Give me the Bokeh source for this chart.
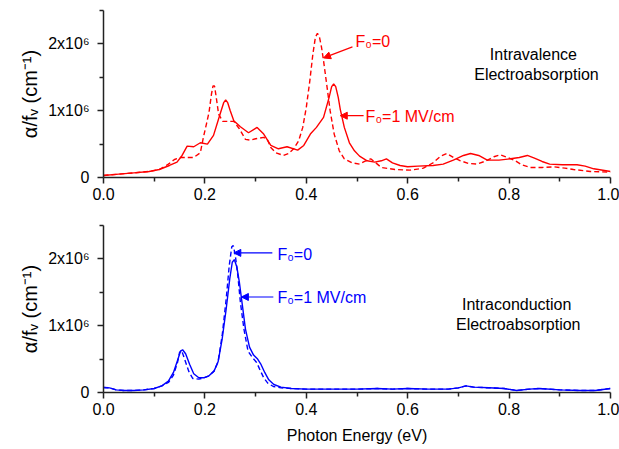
import numpy as np
from bokeh.plotting import figure
from bokeh.layouts import column
from bokeh.models import Range1d, FixedTicker, Arrow, NormalHead, NumeralTickFormatter
from bokeh.core.properties import value
from bokeh.embed import file_html
from bokeh.resources import INLINE

FONT = "Liberation Sans"
RED = "#ff0000"
BLUE = "#0000ff"

# ---------------- data (y in units of 10^6 cm^-1) ----------------
# Intravalence, F0 = 1 MV/cm (solid)
iv_f1_x = [0.00, 0.03, 0.06, 0.09, 0.11, 0.13, 0.145, 0.155, 0.165, 0.178, 0.191, 0.205,
           0.217, 0.23, 0.237, 0.241, 0.245, 0.25, 0.257, 0.27, 0.286, 0.303, 0.316, 0.33, 0.345, 0.362,
           0.383, 0.395, 0.408, 0.42, 0.434, 0.445, 0.45, 0.454, 0.458, 0.463, 0.467, 0.475, 0.485,
           0.495, 0.505, 0.52, 0.535, 0.548, 0.558, 0.57, 0.585, 0.60, 0.62, 0.65, 0.67,
           0.69, 0.71, 0.724, 0.74, 0.757, 0.78, 0.803, 0.82, 0.836, 0.85, 0.865, 0.88,
           0.905, 0.934, 0.95, 0.967, 1.00]
iv_f1_y = [0.03, 0.05, 0.07, 0.09, 0.12, 0.18, 0.23, 0.33, 0.47, 0.46, 0.52, 0.50,
           0.63, 0.95, 1.12, 1.16, 1.12, 1.00, 0.85, 0.76, 0.67, 0.75, 0.65, 0.48, 0.43, 0.46,
           0.41, 0.48, 0.65, 0.75, 0.90, 1.20, 1.36, 1.40, 1.36, 1.20, 1.02, 0.75, 0.52,
           0.40, 0.32, 0.25, 0.23, 0.25, 0.28, 0.22, 0.18, 0.16, 0.17, 0.18, 0.20,
           0.26, 0.33, 0.36, 0.33, 0.26, 0.26, 0.28, 0.30, 0.33, 0.29, 0.24, 0.20,
           0.19, 0.19, 0.17, 0.13, 0.09]

# Intravalence, F0 = 0 (dashed)
iv_f0_x = [0.00, 0.03, 0.06, 0.09, 0.11, 0.128, 0.14, 0.152, 0.165, 0.178, 0.191, 0.197,
           0.203, 0.208, 0.213, 0.216, 0.219, 0.222, 0.227, 0.235, 0.245, 0.257, 0.268, 0.28,
           0.29, 0.30, 0.316, 0.323, 0.33, 0.34, 0.355, 0.365, 0.375, 0.385, 0.393,
           0.40, 0.407, 0.413, 0.418, 0.422, 0.426, 0.43, 0.434, 0.441, 0.447, 0.455, 0.465,
           0.475, 0.49, 0.505, 0.515, 0.527, 0.537, 0.548, 0.575, 0.605, 0.631, 0.65,
           0.665, 0.677, 0.69, 0.704, 0.72, 0.737, 0.755, 0.77, 0.783, 0.797, 0.81,
           0.825, 0.842, 0.865, 0.888, 0.91, 0.927, 0.96, 1.00]
iv_f0_y = [0.03, 0.05, 0.07, 0.09, 0.12, 0.20, 0.27, 0.30, 0.30, 0.30, 0.37, 0.60,
           0.80, 0.97, 1.25, 1.37, 1.37, 1.22, 0.95, 0.84, 0.84, 0.84, 0.73, 0.57,
           0.56, 0.58, 0.60, 0.57, 0.45, 0.37, 0.33, 0.36, 0.43, 0.55, 0.75,
           1.05, 1.45, 1.85, 2.10, 2.16, 2.10, 1.95, 1.75, 1.35, 1.00, 0.65, 0.40,
           0.28, 0.22, 0.20, 0.24, 0.28, 0.22, 0.15, 0.12, 0.11, 0.14, 0.22,
           0.32, 0.36, 0.30, 0.25, 0.21, 0.20, 0.25, 0.31, 0.34, 0.30, 0.26,
           0.19, 0.15, 0.15, 0.16, 0.14, 0.12, 0.09, 0.08]

# Intraconduction, F0 = 1 MV/cm (solid)
ic_f1_x = [0.00, 0.012, 0.025, 0.04, 0.06, 0.08, 0.10, 0.115, 0.128, 0.138, 0.146, 0.152,
           0.156, 0.162, 0.17, 0.178, 0.188, 0.198, 0.208, 0.218, 0.226, 0.234, 0.242,
           0.249, 0.254, 0.258, 0.263, 0.268, 0.274, 0.28, 0.288, 0.296, 0.304, 0.31,
           0.318, 0.326, 0.336, 0.35, 0.37, 0.40, 0.45, 0.50, 0.54, 0.57, 0.60, 0.64,
           0.68, 0.70, 0.715, 0.73, 0.76, 0.79, 0.815, 0.84, 0.86, 0.90, 0.94, 0.97, 1.00]
ic_f1_y = [0.075, 0.07, 0.04, 0.03, 0.03, 0.04, 0.06, 0.10, 0.17, 0.30, 0.48, 0.62,
           0.64, 0.58, 0.42, 0.28, 0.22, 0.22, 0.25, 0.32, 0.46, 0.80, 1.25,
           1.70, 1.95, 1.99, 1.88, 1.65, 1.30, 0.95, 0.68, 0.56, 0.50, 0.43,
           0.30, 0.19, 0.12, 0.08, 0.06, 0.05, 0.05, 0.05, 0.06, 0.05, 0.06, 0.05,
           0.05, 0.07, 0.10, 0.08, 0.07, 0.06, 0.03, 0.05, 0.06, 0.04, 0.03, 0.03, 0.06]

# Intraconduction, F0 = 0 (dashed)
ic_f0_x = [0.00, 0.012, 0.025, 0.04, 0.06, 0.08, 0.10, 0.115, 0.128, 0.138, 0.146, 0.150,
           0.154, 0.16, 0.168, 0.176, 0.188, 0.198, 0.208, 0.218, 0.226, 0.234, 0.242,
           0.248, 0.253, 0.256, 0.26, 0.265, 0.27, 0.277, 0.285, 0.294, 0.302, 0.308,
           0.316, 0.324, 0.335, 0.35, 0.37, 0.40, 0.45, 0.50, 0.54, 0.57, 0.60, 0.64,
           0.68, 0.70, 0.715, 0.73, 0.76, 0.79, 0.815, 0.84, 0.86, 0.90, 0.94, 0.97, 1.00]
ic_f0_y = [0.075, 0.07, 0.04, 0.03, 0.03, 0.04, 0.06, 0.10, 0.15, 0.26, 0.45, 0.60,
           0.63, 0.50, 0.32, 0.21, 0.20, 0.22, 0.25, 0.32, 0.46, 0.85, 1.40,
           1.90, 2.18, 2.20, 2.05, 1.75, 1.35, 0.95, 0.62, 0.52, 0.45, 0.35,
           0.22, 0.14, 0.09, 0.07, 0.06, 0.05, 0.05, 0.05, 0.06, 0.05, 0.06, 0.05,
           0.05, 0.07, 0.10, 0.08, 0.07, 0.06, 0.03, 0.05, 0.06, 0.04, 0.03, 0.03, 0.06]

x_ticks = [0.0, 0.2, 0.4, 0.6, 0.8, 1.0]
x_minor = [0.1, 0.3, 0.5, 0.7, 0.9]
y_ticks = [0, 1e6, 2e6]
y_minor = [0.5e6, 1.5e6, 2.5e6]
y_tick_labels = {0: "0", 1000000: "1x10\u2076", 2000000: "2x10\u2076"}

SCALE = 1e6


def make_fig(height, top, bottom, xlabel=None):
    p = figure(width=619, height=height, x_range=Range1d(0, 1), y_range=Range1d(0, 2.5e6),
               output_backend="svg", toolbar_location=None,
               min_border_left=103, min_border_right=9,
               min_border_top=top, min_border_bottom=bottom)
    p.outline_line_color = None
    p.grid.visible = False
    p.background_fill_color = "white"
    p.border_fill_color = "white"
    for ax in (p.xaxis[0], p.yaxis[0]):
        ax.axis_line_color = "#222222"
        ax.axis_line_width = 1.5
        ax.major_tick_line_color = "#222222"
        ax.minor_tick_line_color = "#222222"
        ax.major_tick_line_width = 1.5
        ax.minor_tick_line_width = 1.5
        ax.major_tick_in = 0
        ax.minor_tick_in = 0
        ax.major_tick_out = 6
        ax.minor_tick_out = 4
        ax.major_label_text_font = FONT
        ax.major_label_text_font_size = "16px"
        ax.major_label_text_color = "black"
        ax.axis_label_text_font = FONT
        ax.axis_label_text_font_style = "normal"
        ax.axis_label_text_color = "black"
    p.xaxis.ticker = FixedTicker(ticks=x_ticks, minor_ticks=x_minor)
    p.xaxis.formatter = NumeralTickFormatter(format="0.0")
    p.xaxis.major_label_standoff = 4
    p.yaxis.ticker = FixedTicker(ticks=y_ticks, minor_ticks=y_minor)
    p.yaxis.major_label_overrides = y_tick_labels
    p.yaxis.major_label_standoff = 8
    p.yaxis.axis_label = "\u03b1/f\u1d65 (cm\u207b\u00b9)"
    p.yaxis.axis_label_text_font_size = "20px"
    p.yaxis.axis_label_standoff = 4
    if xlabel:
        p.xaxis.axis_label = xlabel
        p.xaxis.axis_label_text_font_size = "16px"
        p.xaxis.axis_label_standoff = 9
    return p


def arrow(p, xs, ys, xe, ye, color):
    p.add_layout(Arrow(end=NormalHead(size=7, fill_color=color, line_color=color, line_width=1),
                       x_start=xs, y_start=ys, x_end=xe, y_end=ye,
                       line_color=color, line_width=1.2))


def label(p, x, y, txt, color, align="left"):
    p.text(x=[x], y=[y], text=[txt], text_font=value(FONT), text_font_size="16px",
           text_color=color, text_align=align, text_baseline="middle")


# ---------------- top panel ----------------
top = make_fig(210, 10, 33)
top.line(iv_f1_x, np.array(iv_f1_y) * SCALE, line_color=RED, line_width=1.4)
top.line(iv_f0_x, np.array(iv_f0_y) * SCALE, line_color=RED, line_width=1.4, line_dash="5 3")
arrow(top, 0.491, 1.955e6, 0.434, 1.79e6, RED)
label(top, 0.497, 2.03e6, "F\u2080=0", RED)
arrow(top, 0.513, 0.925e6, 0.467, 0.925e6, RED)
label(top, 0.517, 0.91e6, "F\u2080=1 MV/cm", RED)
label(top, 0.848, 1.84e6, "Intravalence", "black", "center")
label(top, 0.854, 1.54e6, "Electroabsorption", "black", "center")

# ---------------- bottom panel ----------------
bot = make_fig(239, 15, 57, "Photon Energy (eV)")
bot.line(ic_f1_x, np.array(ic_f1_y) * SCALE, line_color=BLUE, line_width=1.4)
bot.line(ic_f0_x, np.array(ic_f0_y) * SCALE, line_color=BLUE, line_width=1.4, line_dash="5 3")
arrow(bot, 0.333, 2.09e6, 0.257, 2.09e6, BLUE)
label(bot, 0.343, 2.07e6, "F\u2080=0", BLUE)
arrow(bot, 0.335, 1.43e6, 0.272, 1.43e6, BLUE)
label(bot, 0.343, 1.42e6, "F\u2080=1 MV/cm", BLUE)
label(bot, 0.815, 1.32e6, "Intraconduction", "black", "center")
label(bot, 0.818, 1.02e6, "Electroabsorption", "black", "center")

layout = column(top, bot, spacing=0)
open("out.html", "w").write(file_html(layout, INLINE))
